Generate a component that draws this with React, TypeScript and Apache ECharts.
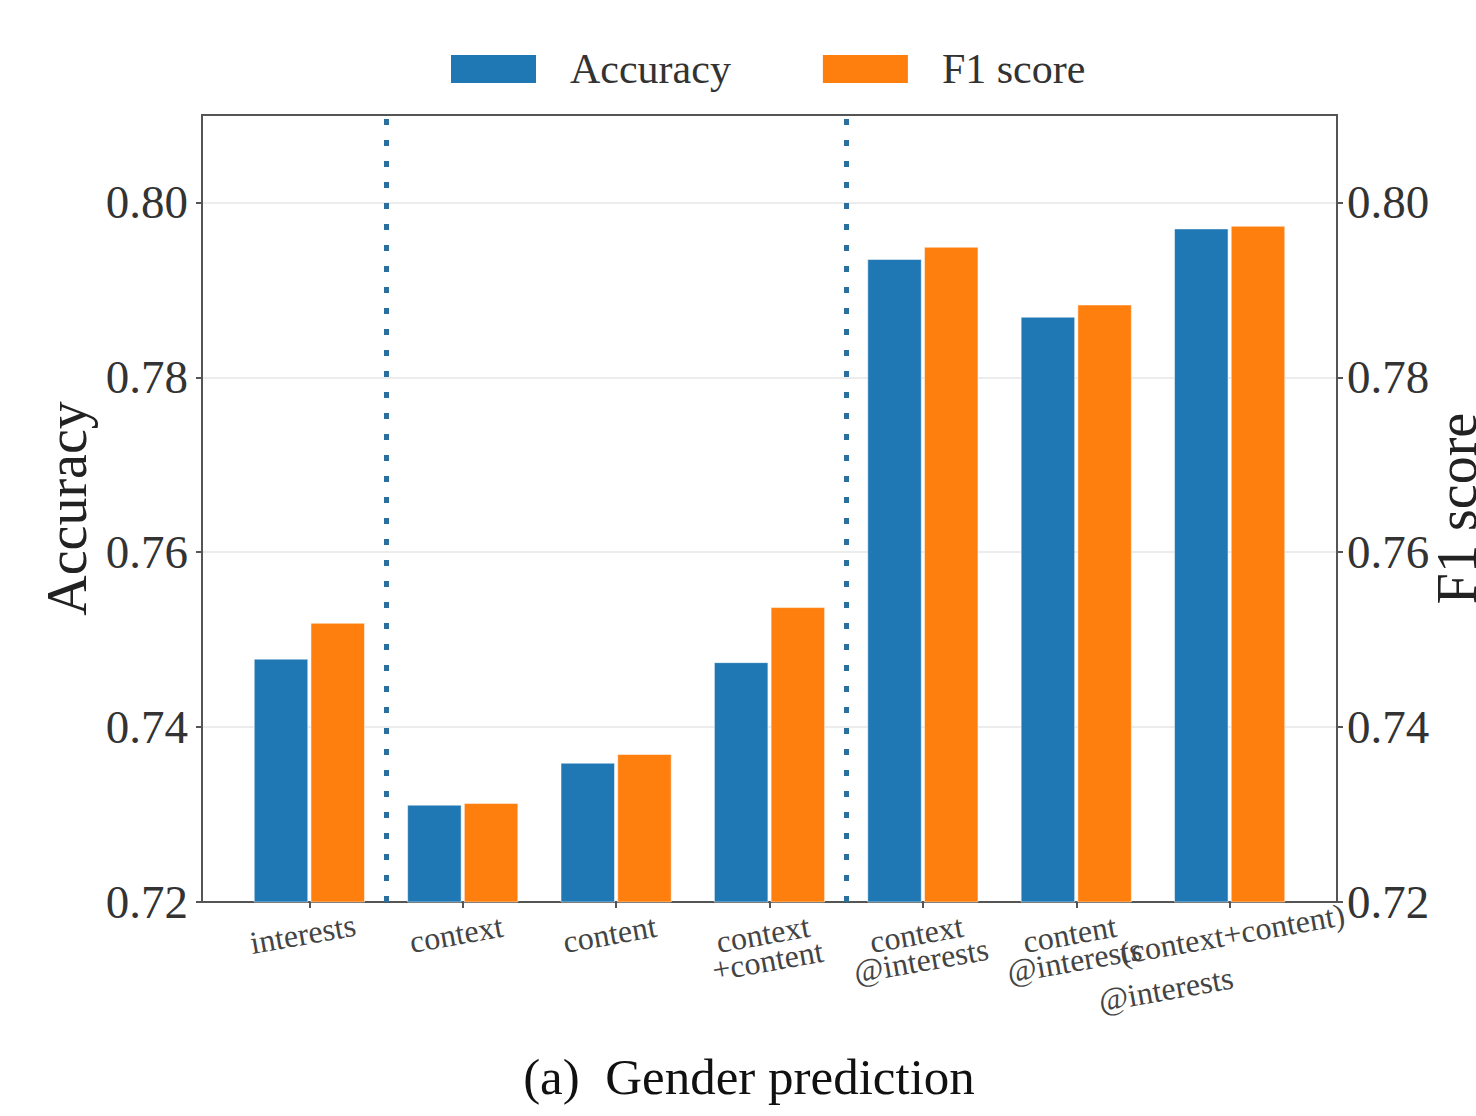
import React, { useEffect, useRef } from "react";
import * as echarts from "echarts";

const categories = [
  "interests",
  "context",
  "content",
  "context\n+content",
  "context\n@interests",
  "content\n@interests",
  "(context+content)\n@interests",
];
const accuracy = [0.7478, 0.7311, 0.7359, 0.7474, 0.7935, 0.7869, 0.797];
const f1Score = [0.7519, 0.7313, 0.7369, 0.7537, 0.7949, 0.7883, 0.7973];
const yTicks = [0.72, 0.74, 0.76, 0.78, 0.8];
const separators = [0.5, 3.5];
// label groups on separate axes so that no neighbouring labels get hidden
const labelGroups = [
  [0, 2, 4],
  [1, 3, 5],
  [6],
];

const FONT = "'Liberation Serif', 'DejaVu Serif', serif";

export default function App() {
  const ref = useRef<HTMLDivElement>(null);
  useEffect(() => {
    if (!ref.current) return;
    const chart = echarts.init(ref.current, null, { renderer: "svg" });
    const xPositions = categories.map((_, i) => i);
    const lastIdx = categories.length - 1;
    const yAxisCommon = {
      type: "value",
      min: 0.72,
      max: 0.81,
      interval: 0.02,
      nameLocation: "middle",
      nameRotate: 90,
      nameTextStyle: { fontFamily: FONT, fontSize: 56, color: "#222" },
      axisLine: { show: true, onZero: false, lineStyle: { color: "#555", width: 2 } },
      axisTick: {
        show: true,
        length: 6,
        customValues: yTicks,
        lineStyle: { color: "#555", width: 2 },
      },
    };
    const labelBase = {
      fontFamily: FONT,
      fontSize: 47,
      color: "#333",
      customValues: yTicks,
      showMinLabel: true,
      showMaxLabel: true,
      formatter: (v: number) => v.toFixed(2),
    };
    const richLine = { fontFamily: FONT, fontSize: 32, color: "#444", lineHeight: 27 };
    const xLabelCommon = {
      rotate: 10,
      align: "center",
      verticalAlign: "top",
      margin: 17,
      hideOverlap: false,
      showMinLabel: true,
      showMaxLabel: true,
      fontFamily: FONT,
      fontSize: 32,
      lineHeight: 27,
      color: "#444",
      formatter: (v: number) => {
        const i = Math.round(v);
        const t = categories[i] ?? "";
        const lines = t.split("\n");
        if (i === lastIdx) {
          return `{a|${lines[0]}}\n{b|${lines[1]}}`;
        }
        return lines.map((l) => `{n|${l}}`).join("\n");
      },
      rich: {
        n: { ...richLine, padding: [0, 18, 0, 0] },
        a: { ...richLine, lineHeight: 30 },
        b: { ...richLine, lineHeight: 56, padding: [0, 150, 0, 0] },
      },
    };
    const xAxes = labelGroups.map((group, gi) => ({
      type: "value",
      min: -0.7,
      max: 6.7,
      position: "bottom",
      offset: 0,
      splitLine: { show: false },
      axisLine:
        gi === 0
          ? { show: true, onZero: false, lineStyle: { color: "#555", width: 2 } }
          : { show: false, onZero: false },
      axisTick:
        gi === 0
          ? { show: true, length: 6, customValues: xPositions, lineStyle: { color: "#555", width: 2 } }
          : { show: false },
      axisLabel: { ...xLabelCommon, customValues: group },
    }));
    chart.setOption({
      animation: false,
      backgroundColor: "#fff",
      title: {
        text: "(a)  Gender prediction",
        left: 744,
        textAlign: "center",
        top: 1046,
        textStyle: { fontFamily: FONT, fontSize: 51, fontWeight: "normal", color: "#111" },
      },
      legend: {
        data: ["Accuracy", "F1 score"],
        left: 449,
        top: 48,
        padding: 0,
        itemWidth: 87,
        itemHeight: 30,
        itemGap: 90,
        icon: "rect",
        textStyle: {
          fontFamily: FONT,
          fontSize: 42,
          color: "#333",
          padding: [0, 0, 0, 28],
        },
      },
      grid: {
        left: 202,
        top: 115,
        right: 139,
        bottom: 214,
        outerBoundsMode: "none",
        containLabel: false,
        show: true,
        borderColor: "#555",
        borderWidth: 2,
        backgroundColor: "transparent",
      },
      xAxis: xAxes,
      yAxis: [
        {
          ...yAxisCommon,
          position: "left",
          name: "Accuracy",
          nameGap: 104,
          axisLabel: { ...labelBase, margin: 14 },
          splitLine: { show: true, lineStyle: { color: "#ececec", width: 2 } },
        },
        {
          ...yAxisCommon,
          position: "right",
          name: "F1 score",
          nameGap: 92,
          nameMoveOverlap: false,
          axisLabel: { ...labelBase, margin: 10 },
          splitLine: { show: false },
        },
      ],
      series: [
        {
          name: "Accuracy",
          type: "bar",
          xAxisIndex: 0,
          yAxisIndex: 0,
          barWidth: 54,
          barGap: "5%",
          itemStyle: { color: "#1f77b4", borderColor: "#ffffff", borderWidth: 0.5 },
          data: accuracy.map((v, i) => [i, v]),
        },
        {
          name: "F1 score",
          type: "bar",
          xAxisIndex: 0,
          yAxisIndex: 1,
          barWidth: 54,
          barGap: "5%",
          itemStyle: { color: "#ff7f0e", borderColor: "#ffffff", borderWidth: 0.5 },
          data: f1Score.map((v, i) => [i, v]),
        },
        {
          name: "separators",
          type: "line",
          xAxisIndex: 0,
          yAxisIndex: 0,
          data: [],
          showSymbol: false,
          markLine: {
            silent: true,
            symbol: "none",
            label: { show: false },
            lineStyle: { color: "#2a6f9e", width: 5, type: [6, 15] },
            data: separators.map((x) => ({ xAxis: x })),
          },
        },
      ],
    });
    return () => chart.dispose();
  }, []);
  return (
    <div
      ref={ref}
      style={{ position: "absolute", left: 0, top: 0, width: 1476, height: 1116 }}
    />
  );
}
